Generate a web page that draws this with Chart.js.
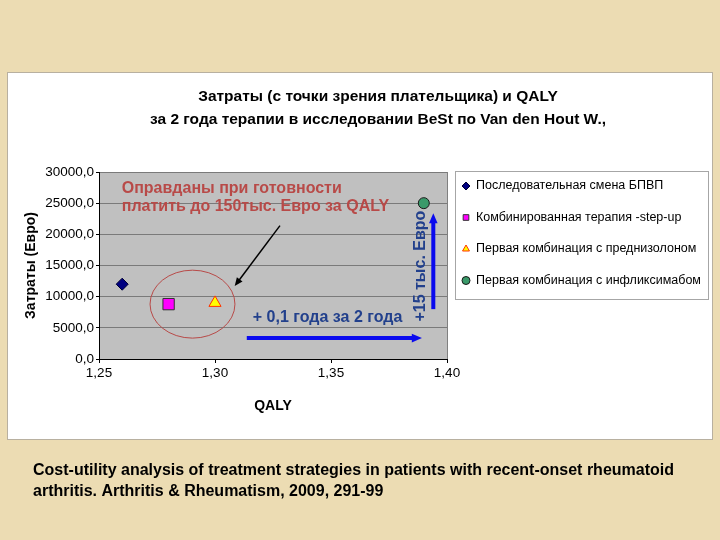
<!DOCTYPE html>
<html lang="ru">
<head>
<meta charset="UTF-8">
<title>Затраты и QALY</title>
<script src="https://cdn.jsdelivr.net/npm/chart.js"></script>
<style>
  html, body { margin: 0; padding: 0; background: #ecdcb3; }
  canvas { display: block; }
</style>
</head>
<body>
<canvas id="myChart" width="720" height="540"></canvas>
<script>
// data
const seriesNames = [
  'Последовательная смена БПВП',
  'Комбинированная терапия -step-up',
  'Первая комбинация с преднизолоном',
  'Первая комбинация с инфликсимабом'
];
const qalyValues = [1.26, 1.28, 1.30, 1.39];
const costValues = [12000, 8800, 9000, 25000];
const xTickValues = [1.25, 1.30, 1.35, 1.40];
const yTickValues = [0, 5000, 10000, 15000, 20000, 25000, 30000];

const pointStyles = ['rectRot', 'rect', 'triangle', 'circle'];
const fillColors = ['#000080', '#ff00ff', '#ffff00', '#3a9a6a'];
const borderColors = ['#000033', '#333333', '#ff3300', '#1a1a1a'];
const pointSizes = [6, 8, 7, 5.5];

const titleLines = [
  'Затраты (с точки зрения плательщика) и QALY',
  'за 2 года терапии в исследовании BeSt по Van den Hout W.,'
];
const captionLines = [
  'Cost-utility analysis of treatment strategies in patients with recent-onset rheumatoid',
  'arthritis. Arthritis & Rheumatism, 2009, 291-99'
];

// annotation anchors in data units (x = QALY, y = Euro)
const noteLines = ['Оправданы при готовности', 'платить до 150тыс. Евро за QALY'];
const noteAnchor = [1.2598, 27300];
const noteArrow = [[1.328, 21400], [1.3085, 11700]];
const circleCenter = [1.2903, 8800];
const circleRadius = [0.0183, 5450];
const qalyArrow = [[1.3137, 3350], [1.3892, 3350]];
const qalyLabel = ['+ 0,1 года за 2 года', 1.3163, 6700];
const costArrow = [[1.3941, 8000], [1.3941, 23400]];
const costLabel = ['+15 тыс. Евро', 1.3885, 14900];

const FONT = "'Liberation Sans', Arial, sans-serif";
Chart.defaults.font.family = FONT;
Chart.defaults.color = '#000';

const datasets = seriesNames.map((name, i) => ({
  label: name,
  data: [{ x: qalyValues[i], y: costValues[i] }],
  pointStyle: pointStyles[i],
  backgroundColor: fillColors[i],
  borderColor: borderColors[i],
  borderWidth: 1,
  pointRadius: pointSizes[i],
  pointHoverRadius: pointSizes[i]
}));

function arrow(ctx, x1, y1, x2, y2, color, width, head) {
  const a = Math.atan2(y2 - y1, x2 - x1);
  ctx.save();
  ctx.strokeStyle = color;
  ctx.fillStyle = color;
  ctx.lineWidth = width;
  ctx.beginPath();
  ctx.moveTo(x1, y1);
  ctx.lineTo(x2 - Math.cos(a) * head * 0.8, y2 - Math.sin(a) * head * 0.8);
  ctx.stroke();
  ctx.beginPath();
  ctx.moveTo(x2, y2);
  ctx.lineTo(x2 - head * Math.cos(a - 0.4), y2 - head * Math.sin(a - 0.4));
  ctx.lineTo(x2 - head * Math.cos(a + 0.4), y2 - head * Math.sin(a + 0.4));
  ctx.closePath();
  ctx.fill();
  ctx.restore();
}

const slidePlugin = {
  id: 'slide',
  beforeDraw(chart) {
    const { ctx, chartArea: a } = chart;
    ctx.save();
    ctx.fillStyle = '#ecdcb3';
    ctx.fillRect(0, 0, chart.width, chart.height);
    // white chart panel
    ctx.fillStyle = '#ffffff';
    ctx.fillRect(7, 72, 706, 368);
    ctx.strokeStyle = '#b8b0a0';
    ctx.lineWidth = 1;
    ctx.strokeRect(7.5, 72.5, 705, 367);
    // plot area
    ctx.fillStyle = '#c0c0c0';
    ctx.fillRect(a.left, a.top, a.right - a.left, a.bottom - a.top);
    ctx.strokeStyle = '#808080';
    ctx.strokeRect(a.left + 0.5, a.top + 0.5, a.right - a.left, a.bottom - a.top);
    // title
    ctx.fillStyle = '#000';
    ctx.font = 'bold 15.5px ' + FONT;
    ctx.textAlign = 'center';
    ctx.textBaseline = 'middle';
    ctx.fillText(titleLines[0], 378, 97);
    ctx.fillText(titleLines[1], 378, 120);
    // caption under the panel
    ctx.textAlign = 'left';
    ctx.font = 'bold 16px ' + FONT;
    ctx.fillText(captionLines[0], 33, 471);
    ctx.fillText(captionLines[1], 33, 492);
    ctx.restore();
  },
  afterDatasetsDraw(chart) {
    const { ctx, scales: { x, y } } = chart;
    const px = v => x.getPixelForValue(v);
    const py = v => y.getPixelForValue(v);
    ctx.save();
    // red ellipse around the two combination strategies
    ctx.strokeStyle = '#b84a48';
    ctx.lineWidth = 1;
    const cx = px(circleCenter[0]), cy = py(circleCenter[1]);
    const rx = px(circleCenter[0] + circleRadius[0]) - cx;
    const ry = cy - py(circleCenter[1] + circleRadius[1]);
    ctx.beginPath();
    ctx.ellipse(cx, cy, rx, ry, 0, 0, Math.PI * 2);
    ctx.stroke();
    // red note
    ctx.fillStyle = '#b84a48';
    ctx.font = 'bold 16px ' + FONT;
    ctx.textAlign = 'left';
    ctx.textBaseline = 'middle';
    ctx.fillText(noteLines[0], px(noteAnchor[0]), py(noteAnchor[1]));
    ctx.fillText(noteLines[1], px(noteAnchor[0]), py(noteAnchor[1]) + 18);
    // black arrow to the ellipse
    arrow(ctx, px(noteArrow[0][0]), py(noteArrow[0][1]), px(noteArrow[1][0]), py(noteArrow[1][1]), '#000', 1.5, 9);
    // blue arrows
    arrow(ctx, px(qalyArrow[0][0]), py(qalyArrow[0][1]), px(qalyArrow[1][0]), py(qalyArrow[1][1]), '#0a0aee', 4, 11);
    arrow(ctx, px(costArrow[0][0]), py(costArrow[0][1]), px(costArrow[1][0]), py(costArrow[1][1]), '#0a0aee', 4, 11);
    // blue labels
    ctx.fillStyle = '#22408c';
    ctx.font = 'bold 16px ' + FONT;
    ctx.fillText(qalyLabel[0], px(qalyLabel[1]), py(qalyLabel[2]));
    ctx.translate(px(costLabel[1]), py(costLabel[2]));
    ctx.rotate(-Math.PI / 2);
    ctx.textAlign = 'center';
    ctx.fillText(costLabel[0], 0, 0);
    ctx.restore();
  },
  afterDraw(chart) {
    const { ctx } = chart;
    ctx.save();
    // legend box
    ctx.fillStyle = '#fff';
    ctx.fillRect(455, 171, 253, 128);
    ctx.strokeStyle = '#a6a6a6';
    ctx.lineWidth = 1;
    ctx.strokeRect(455.5, 171.5, 253, 128);
    ctx.font = '12.5px ' + FONT;
    ctx.textAlign = 'left';
    ctx.textBaseline = 'middle';
    chart.data.datasets.forEach((ds, i) => {
      const ly = 186 + i * 31.5;
      ctx.fillStyle = ds.backgroundColor;
      ctx.strokeStyle = ds.borderColor;
      ctx.lineWidth = 1;
      Chart.helpers.drawPoint(ctx, { pointStyle: ds.pointStyle, radius: 4, rotation: 0, borderWidth: 1 }, 466, ly);
      ctx.fillStyle = '#000';
      ctx.fillText(ds.label, 476, ly);
    });
    ctx.restore();
  }
};

const ctx = document.getElementById('myChart').getContext('2d');
const chart = new Chart(ctx, {
  type: 'scatter',
  data: { datasets: datasets },
  options: {
    responsive: false,
    animation: false,
    events: [],
    layout: { padding: { left: 10, top: 172, right: 273, bottom: 121 } },
    plugins: {
      legend: { display: false },
      tooltip: { enabled: false }
    },
    scales: {
      x: {
        type: 'linear',
        min: 1.25,
        max: 1.40,
        afterBuildTicks: s => { s.ticks = xTickValues.map(v => ({ value: v })); },
        afterFit: s => { s.height = 60; },
        ticks: {
          font: { size: 13.5 },
          padding: 2,
          callback: v => v.toFixed(2).replace('.', ',')
        },
        grid: { drawOnChartArea: false, tickLength: 4, color: '#000' },
        border: { color: '#000' },
        title: {
          display: true,
          text: 'QALY',
          font: { size: 14, weight: 'bold' },
          padding: { top: 0, bottom: 4 }
        }
      },
      y: {
        type: 'linear',
        min: 0,
        max: 30000,
        afterBuildTicks: s => { s.ticks = yTickValues.map(v => ({ value: v })); },
        afterFit: s => { s.width = 89; },
        ticks: {
          font: { size: 13.5 },
          padding: 2,
          callback: v => v.toFixed(1).replace('.', ',')
        },
        grid: { color: '#7a7a7a', tickLength: 3, tickColor: '#000' },
        border: { color: '#000' },
        title: {
          display: true,
          text: 'Затраты (Евро)',
          font: { size: 14, weight: 'bold' },
          padding: { top: 13, bottom: 0 }
        }
      }
    }
  },
  plugins: [slidePlugin]
});
</script>
</body>
</html>
